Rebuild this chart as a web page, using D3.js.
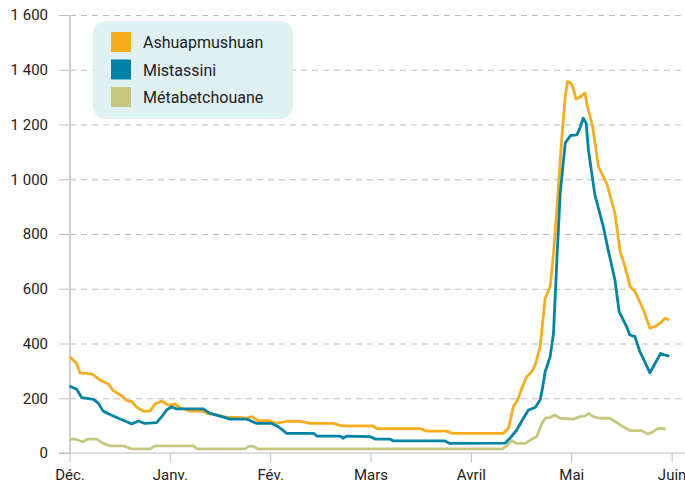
<!DOCTYPE html>
<html>
<head>
<meta charset="utf-8">
<script src="https://cdn.jsdelivr.net/npm/d3@7"></script>
<style>
  body { margin: 0; background: #fff; }
  svg text { font-family: Roboto, "Open Sans", sans-serif; fill: #222; }
</style>
</head>
<body>
<div id="chart"></div>
<script>
const w = 685;
const h = 485;

// day index from 1 Dec; months are evenly spaced on the axis
const monthDays = [0, 31, 62, 90, 121, 151, 182];
const monthLabels = ["Déc.", "Janv.", "Fév.", "Mars", "Avril", "Mai", "Juin"];
const yTicks = [0, 200, 400, 600, 800, 1000, 1200, 1400, 1600];

const seriesNames = ["Ashuapmushuan", "Mistassini", "Métabetchouane"];
const seriesColors = ["#f9ac1c", "#0084a6", "#c6c880"];

const ashDays = [0, 2.2, 3.2, 6.9, 9.4, 12, 13.5, 16.1, 17.7, 19.2, 20.8, 22.8, 24.9, 26.4, 28.5, 30.5,
  32.6, 34.1, 37.2, 41.3, 42.4, 45.5, 48.6, 51.7, 54.7, 56.3, 58.3, 61.9, 63.8, 66.6, 70.3, 73.1,
  79.6, 81.9, 90.8, 91.9, 105.3, 107.4, 113.5, 115.1, 130.7, 132.2, 133.7, 135.2, 136.2, 137.7,
  139.2, 140.2, 141.7, 143.2, 144.7, 145.7, 146.9, 148.2, 149.2, 149.9, 150.9, 151.6, 152.5, 153.7,
  155.2, 156, 157.6, 159.4, 162, 164.5, 166.1, 167.6, 169.2, 170.7, 173.3, 175.3, 176.9, 179, 180, 181.3];
const ashValues = [352, 328, 293, 289, 267, 252, 228, 209, 191, 188, 167, 153, 153, 179, 190, 175,
  179, 166, 153, 153, 145, 139, 130, 130, 127, 133, 118, 118, 108, 116, 116, 108,
  108, 99, 99, 89, 89, 80, 80, 72, 72, 90, 169, 200, 236, 279,
  297, 321, 388, 565, 608, 730, 925, 1156, 1302, 1357, 1351, 1333, 1293, 1300,
  1315, 1266, 1193, 1046, 983, 876, 736, 681, 608, 590, 523, 456, 462, 480, 492, 486];

const misDays = [0, 2.2, 3.8, 7.4, 8.9, 10.4, 12.5, 15.1, 17.7, 19.2, 21.3, 23.3, 26.9, 28.5, 30, 31.6,
  33.1, 41.3, 43.4, 46.5, 49.6, 54.7, 57.8, 62.4, 64.3, 66.6, 74.1, 75, 81.5, 82.3, 83.4, 89.8,
  91.4, 96, 97, 113, 114.5, 131.2, 132.7, 134.7, 136.7, 138.2, 140.2, 141.7, 142.4, 143.2, 144.7,
  145.7, 146.7, 147.7, 149.2, 150.7, 152.7, 153.7, 154.7, 155.6, 156.3, 158.3, 160.9, 162.4, 164.5,
  165.8, 168.1, 169.1, 170.7, 172.2, 173.7, 175.3, 176.8, 178.6, 179.9, 181.3];
const misValues = [245, 233, 202, 196, 182, 153, 141, 127, 114, 106, 117, 108, 111, 133, 157, 169,
  161, 161, 145, 135, 124, 124, 108, 108, 96, 72, 72, 62, 62, 54, 62, 60,
  51, 51, 44, 44, 35, 36, 54, 84, 127, 157, 166, 194, 236, 297, 352,
  438, 706, 949, 1132, 1159, 1162, 1187, 1223, 1205, 1107, 943, 827, 742, 632,
  516, 462, 431, 425, 370, 334, 293, 325, 364, 358, 354];

const metDays = [0, 1.7, 4, 5.8, 8.4, 10.4, 12.5, 16.6, 19.2, 24.9, 26.4, 38.3, 39.3, 54.2, 55.7, 57.2,
  58.3, 130.4, 131.9, 133.2, 134.7, 137.2, 139.2, 140.7, 142.2, 143.2, 144.7, 146, 147.7, 151.8, 153.7,
  155.3, 156.3, 157.8, 159.8, 162.9, 165.5, 167, 169.1, 172.7, 174.7, 176.3, 177.8, 180.2];
const metValues = [51, 51, 41, 51, 51, 35, 26, 26, 15, 15, 26, 26, 15, 15, 26, 22,
  15, 15, 29, 45, 35, 35, 50, 60, 108, 127, 130, 139, 127, 124, 133,
  136, 145, 133, 127, 127, 108, 96, 82, 82, 69, 78, 90, 88];

const series = [
  { name: seriesNames[0], color: seriesColors[0], pts: d3.zip(ashDays, ashValues) },
  { name: seriesNames[1], color: seriesColors[1], pts: d3.zip(misDays, misValues) },
  { name: seriesNames[2], color: seriesColors[2], pts: d3.zip(metDays, metValues) }
];

const plotLeft = 70, plotRight = 685, plotTop = 15, plotBottom = 453;

const x = d3.scaleLinear()
  .domain(monthDays)
  .range(monthDays.map((d, i) => 69.5 + i * 100.35));

const y = d3.scaleLinear()
  .domain([0, 1600])
  .range([plotBottom, plotTop]);

const fr = d3.formatLocale({ decimal: ",", thousands: " ", grouping: [3], currency: ["", " $"] });
const fmt = fr.format(",d");

const svg = d3.select("#chart")
  .append("svg")
  .attr("width", w)
  .attr("height", h);

// grid
const grid = svg.append("g")
  .attr("transform", `translate(${plotLeft},0)`)
  .call(d3.axisRight(y).tickValues(yTicks.slice(1)).tickSize(plotRight - plotLeft).tickFormat(""));
grid.select(".domain").remove();
grid.selectAll("line")
  .attr("stroke", "#bdbdbd")
  .attr("stroke-dasharray", "6,5");

// y axis
const yAxis = svg.append("g")
  .attr("transform", `translate(${plotLeft},0)`)
  .call(d3.axisLeft(y).tickValues(yTicks).tickSize(11).tickPadding(11).tickFormat(fmt));
yAxis.select(".domain").remove();
yAxis.selectAll("line").attr("stroke", "#bdbdbd");
yAxis.selectAll("text").style("font-size", "15px").attr("fill", "#222");

// x axis
const xAxis = svg.append("g")
  .attr("transform", `translate(0,${plotBottom})`)
  .call(d3.axisBottom(x).tickValues(monthDays).tickSize(9).tickPadding(7)
    .tickFormat((d, i) => monthLabels[i]));
xAxis.select(".domain").remove();
xAxis.selectAll("line").attr("stroke", "#bdbdbd");
xAxis.selectAll("text").style("font-size", "15px").attr("fill", "#222");

svg.append("line")
  .attr("x1", 59).attr("x2", plotRight)
  .attr("y1", plotBottom).attr("y2", plotBottom)
  .attr("stroke", "#bdbdbd");

svg.append("line")
  .attr("x1", plotLeft).attr("x2", plotLeft)
  .attr("y1", plotTop).attr("y2", plotBottom)
  .attr("stroke", "#cfcfcf")
  .attr("stroke-width", 2);

// lines
const line = d3.line()
  .x(d => x(d[0]))
  .y(d => y(d[1]));

svg.selectAll(".serie")
  .data(series)
  .enter()
  .append("path")
  .attr("class", "serie")
  .attr("d", d => line(d.pts))
  .attr("fill", "none")
  .attr("stroke", d => d.color)
  .attr("stroke-width", 2.8)
  .attr("stroke-linejoin", "round");

// legend
const legend = svg.append("g");
legend.append("rect")
  .attr("x", 93).attr("y", 21)
  .attr("width", 200).attr("height", 98)
  .attr("rx", 13)
  .attr("fill", "#e0f1f4");

legend.selectAll(".sw")
  .data(series)
  .enter()
  .append("rect")
  .attr("x", 111)
  .attr("y", (d, i) => 32 + 27.5 * i)
  .attr("width", 20)
  .attr("height", 20)
  .attr("fill", d => d.color);

legend.selectAll(".lab")
  .data(series)
  .enter()
  .append("text")
  .attr("x", 143)
  .attr("y", (d, i) => 48 + 27.5 * i)
  .style("font-size", "16px")
  .text(d => d.name);
</script>
</body>
</html>
